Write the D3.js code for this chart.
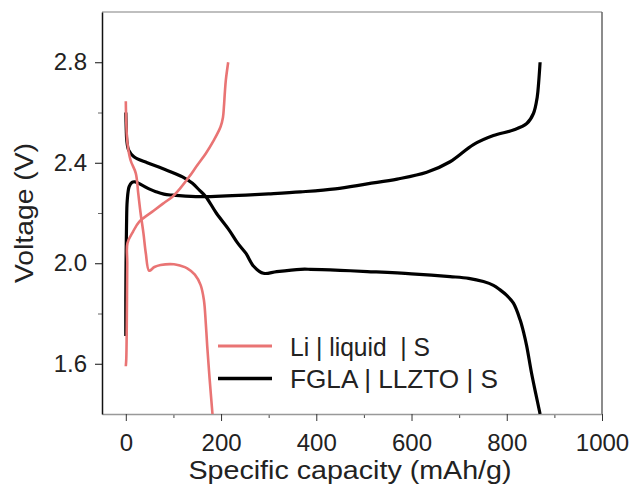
<!DOCTYPE html>
<html>
<head>
<meta charset="utf-8">
<script src="https://cdn.jsdelivr.net/npm/d3@7"></script>
<style>
  body { margin: 0; background: #fff; }
  svg text { font-family: Arial, "Liberation Sans", sans-serif; fill: #222; }
</style>
</head>
<body>
<div id="chart"></div>
<script>
// Charge / discharge curves: [capacity mAh/g, voltage V]
const liquidDischarge = [
  [0, 2.645], [1, 2.56], [3.5, 2.477], [10, 2.41], [21, 2.358], [26, 2.28], [31, 2.2],
  [37, 2.12], [42, 2.04], [49, 1.97], [60, 1.985], [73, 1.993], [101, 1.996],
  [115, 1.99], [129, 1.98], [145, 1.955], [157, 1.914], [164, 1.854],
  [168, 1.76], [171, 1.669], [176, 1.54], [182, 1.40]
];
const liquidCharge = [
  [0, 1.59], [1, 1.62], [2, 1.75], [3, 2.0], [3.5, 2.08], [15, 2.125], [28, 2.165],
  [59, 2.21], [80, 2.24], [98, 2.265], [115, 2.3], [133, 2.344], [150, 2.39],
  [168, 2.437], [185, 2.49], [199, 2.543], [204, 2.58], [206, 2.622],
  [208, 2.68], [210, 2.728], [215, 2.80]
];
const fglaDischarge = [
  [0, 2.60], [1, 2.53], [2, 2.49], [6, 2.45], [17, 2.424], [45, 2.40], [77, 2.377],
  [119, 2.344], [140, 2.318], [155, 2.29], [168, 2.265], [190, 2.20], [217, 2.132],
  [235, 2.08], [252, 2.04], [269, 1.987], [289, 1.96], [317, 1.967], [367, 1.976],
  [388, 1.976], [450, 1.972], [507, 1.967], [600, 1.958], [681, 1.947],
  [720, 1.94], [751, 1.927], [772, 1.912], [786, 1.894], [800, 1.872],
  [814, 1.841], [828, 1.775], [836, 1.72], [842, 1.669], [852, 1.563],
  [861, 1.48], [870, 1.40]
];
const fglaCharge = [
  [0, 1.71], [0, 1.85], [0.5, 2.0], [1.5, 2.15], [3, 2.25], [7, 2.305], [13, 2.322],
  [19.5, 2.324], [35, 2.31], [50, 2.295], [63, 2.285], [80, 2.275], [98, 2.271],
  [147, 2.265], [200, 2.267], [252, 2.271], [300, 2.276], [367, 2.284],
  [440, 2.296], [507, 2.316], [570, 2.335], [632, 2.362], [681, 2.404],
  [730, 2.472], [772, 2.508], [814, 2.53], [842, 2.556], [856, 2.596],
  [864, 2.662], [867, 2.72], [870, 2.80]
];

const xTicks = [0, 200, 400, 600, 800, 1000];
const xMinor = [100, 300, 500, 700, 900];
const yTicks = [1.6, 2.0, 2.4, 2.8];
const yMinor = [1.8, 2.2, 2.6];

const seriesNames = ["Li | liquid  | S", "FGLA | LLZTO | S"];
const seriesColors = ["#e97474", "#000000"];

const W = 636, H = 486;
const margin = { top: 12, right: 34, bottom: 72, left: 102 };

const svg = d3.select("#chart").append("svg")
    .attr("width", W)
    .attr("height", H);

const x = d3.scaleLinear().domain([-50, 1000]).range([margin.left, W - margin.right]);
const y = d3.scaleLinear().domain([1.4, 3.0]).range([H - margin.bottom, margin.top]);

// frame: top and right in grey
svg.append("line")
    .attr("x1", x(-50)).attr("x2", x(1000))
    .attr("y1", y(3.0)).attr("y2", y(3.0))
    .attr("stroke", "#aaa").attr("stroke-width", 1.5);
svg.append("line")
    .attr("x1", x(1000)).attr("x2", x(1000))
    .attr("y1", y(3.0)).attr("y2", y(1.4))
    .attr("stroke", "#666").attr("stroke-width", 1.5);

// minor ticks
svg.append("g")
    .attr("transform", "translate(0," + y(1.4) + ")")
    .call(d3.axisBottom(x).tickValues(xMinor).tickSize(4).tickFormat(""))
    .call(g => g.select(".domain").remove())
    .selectAll("line").attr("stroke", "#444");
svg.append("g")
    .attr("transform", "translate(" + x(-50) + ",0)")
    .call(d3.axisLeft(y).tickValues(yMinor).tickSize(4).tickFormat(""))
    .call(g => g.select(".domain").remove())
    .selectAll("line").attr("stroke", "#666");

// major axes
const xAxis = svg.append("g")
    .attr("transform", "translate(0," + y(1.4) + ")")
    .call(d3.axisBottom(x).tickValues(xTicks).tickSize(7).tickSizeOuter(0).tickPadding(13).tickFormat(d3.format("d")));
xAxis.select(".domain").attr("stroke", "#999").attr("stroke-width", 1.5);
xAxis.selectAll("line").attr("stroke", "#333");
xAxis.selectAll("text").attr("font-size", "24px").attr("fill", "#222");

const yAxis = svg.append("g")
    .attr("transform", "translate(" + x(-50) + ",0)")
    .call(d3.axisLeft(y).tickValues(yTicks).tickSize(7).tickSizeOuter(0).tickPadding(8).tickFormat(d3.format(".1f")));
yAxis.select(".domain").attr("stroke", "#111").attr("stroke-width", 1.5);
yAxis.selectAll("line").attr("stroke", "#111");
yAxis.selectAll("text").attr("font-size", "24px").attr("fill", "#222");

// axis titles
svg.append("text")
    .attr("x", 350).attr("y", 479)
    .attr("text-anchor", "middle")
    .attr("font-size", "26px")
    .attr("textLength", 323)
    .attr("lengthAdjust", "spacingAndGlyphs")
    .text("Specific capacity (mAh/g)");

svg.append("text")
    .attr("transform", "translate(33,213) rotate(-90)")
    .attr("text-anchor", "middle")
    .attr("font-size", "26px")
    .attr("textLength", 140)
    .attr("lengthAdjust", "spacingAndGlyphs")
    .text("Voltage (V)");

// curves, clipped to the plot area
svg.append("clipPath").attr("id", "plot-clip")
    .append("rect")
    .attr("x", margin.left).attr("y", margin.top)
    .attr("width", W - margin.left - margin.right)
    .attr("height", H - margin.top - margin.bottom);

const line = d3.line()
    .x(d => x(d[0]))
    .y(d => y(d[1]))
    .curve(d3.curveCatmullRom.alpha(0.5));

const plot = svg.append("g").attr("clip-path", "url(#plot-clip)");

plot.append("path").datum(fglaCharge)
    .attr("d", line).attr("fill", "none")
    .attr("stroke", seriesColors[1]).attr("stroke-width", 3.2);
plot.append("path").datum(fglaDischarge)
    .attr("d", line).attr("fill", "none")
    .attr("stroke", seriesColors[1]).attr("stroke-width", 3.2);
plot.append("path").datum(liquidCharge)
    .attr("d", line).attr("fill", "none")
    .attr("stroke", seriesColors[0]).attr("stroke-width", 2.6);
plot.append("path").datum(liquidDischarge)
    .attr("d", line).attr("fill", "none")
    .attr("stroke", seriesColors[0]).attr("stroke-width", 2.6);

// legend
const legendWidths = [140, 208];
const legend = svg.append("g");
seriesNames.forEach((name, i) => {
    const ly = 346 + i * 32.5;
    legend.append("line")
        .attr("x1", 218).attr("x2", 272)
        .attr("y1", ly).attr("y2", ly)
        .attr("stroke", seriesColors[i])
        .attr("stroke-width", i === 0 ? 3 : 3.5);
    legend.append("text")
        .attr("x", 290).attr("y", ly + 1)
        .attr("dy", "0.35em")
        .attr("font-size", "25px")
        .attr("textLength", legendWidths[i])
        .attr("lengthAdjust", "spacingAndGlyphs")
        .attr("xml:space", "preserve")
        .text(name);
});
</script>
</body>
</html>
